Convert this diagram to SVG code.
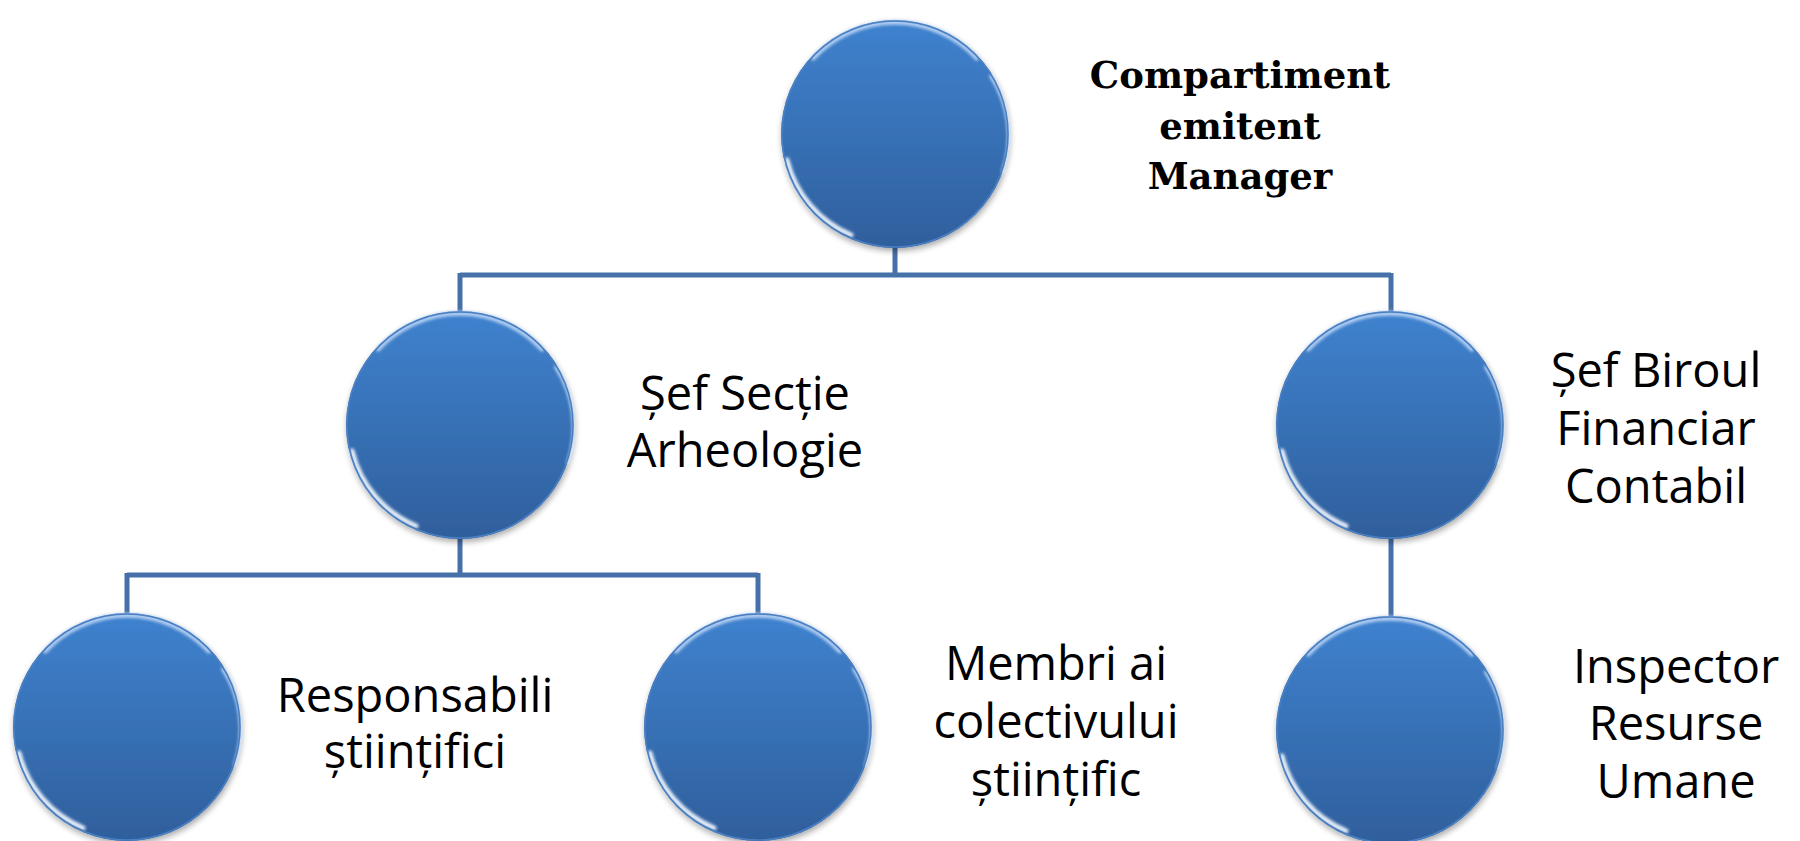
<svg xmlns="http://www.w3.org/2000/svg" width="1800" height="841" viewBox="0 0 1800 841">
<defs>
<linearGradient id="fillG" x1="0" y1="0" x2="0" y2="1">
<stop offset="0" stop-color="#3f82cf"/>
<stop offset="1" stop-color="#2f5f9c"/>
</linearGradient>
<filter id="sh" x="-20%" y="-20%" width="140%" height="140%">
<feGaussianBlur in="SourceAlpha" stdDeviation="3"/>
<feOffset dx="1" dy="3"/>
<feComponentTransfer><feFuncA type="linear" slope="0.35"/></feComponentTransfer>
<feMerge><feMergeNode/><feMergeNode in="SourceGraphic"/></feMerge>
</filter>
<filter id="blur" x="-20%" y="-20%" width="140%" height="140%"><feGaussianBlur stdDeviation="1.6"/></filter>
<g id="ball">
<circle r="114" fill="url(#fillG)" filter="url(#sh)"/>
<path d="M-82,-76 A112,112 0 0 1 82,-76" fill="none" stroke="#c7ddf9" stroke-width="5" stroke-linecap="round" opacity="0.85" filter="url(#blur)"/>
<path d="M-108,26 A110,110 0 0 0 -44,101" fill="none" stroke="#f2f8ff" stroke-width="5" stroke-linecap="round" opacity="0.95" filter="url(#blur)"/>
<path d="M96,-58 A111,111 0 0 1 108,38" fill="none" stroke="#dcebff" stroke-width="3.5" stroke-linecap="round" opacity="0.85" filter="url(#blur)"/>
<circle r="113" fill="none" stroke="#4a7fc2" stroke-width="1.5"/>
</g>
</defs>
<style>
.conn{fill:none;stroke:#4670a8;stroke-width:5}
.lbl{font-family:"Open Sans","Liberation Sans",sans-serif;font-size:47px;fill:#000;text-anchor:middle}
.top{font-family:"DejaVu Serif","Liberation Serif",serif;font-weight:bold;font-size:37px;fill:#000;text-anchor:middle}
</style>
<rect width="1800" height="841" fill="#ffffff"/>
<g id="connectors">
<path class="conn" d="M895,247 V275 M460,275 H1391 M460,273 V312 M1391,273 V312"/>
<path class="conn" d="M460,538 V575 M127,575 H758 M127,573 V614 M758,573 V614"/>
<path class="conn" d="M1391,538 V617"/>
</g>
<g id="node-manager">
<use href="#ball" x="895" y="134"/>
<text class="top" x="1240" y="88">Compartiment</text>
<text class="top" x="1240" y="139">emitent</text>
<text class="top" x="1240" y="189">Manager</text>
</g>
<g id="node-sef-sectie">
<use href="#ball" x="460" y="425"/>
<text class="lbl" x="745" y="410">Șef Secție</text>
<text class="lbl" x="745" y="467">Arheologie</text>
</g>
<g id="node-sef-birou">
<use href="#ball" x="1390" y="425"/>
<text class="lbl" x="1656" y="387">Șef Biroul</text>
<text class="lbl" x="1656" y="445">Financiar</text>
<text class="lbl" x="1656" y="503">Contabil</text>
</g>
<g id="node-responsabili">
<use href="#ball" x="127" y="727"/>
<text class="lbl" x="415" y="712">Responsabili</text>
<text class="lbl" x="415" y="768">științifici</text>
</g>
<g id="node-membri">
<use href="#ball" x="758" y="727"/>
<text class="lbl" x="1056" y="680">Membri ai</text>
<text class="lbl" x="1056" y="738">colectivului</text>
<text class="lbl" x="1056" y="796">științific</text>
</g>
<g id="node-inspector">
<use href="#ball" x="1390" y="730"/>
<text class="lbl" x="1676" y="683">Inspector</text>
<text class="lbl" x="1676" y="740">Resurse</text>
<text class="lbl" x="1676" y="798">Umane</text>
</g>
</svg>
